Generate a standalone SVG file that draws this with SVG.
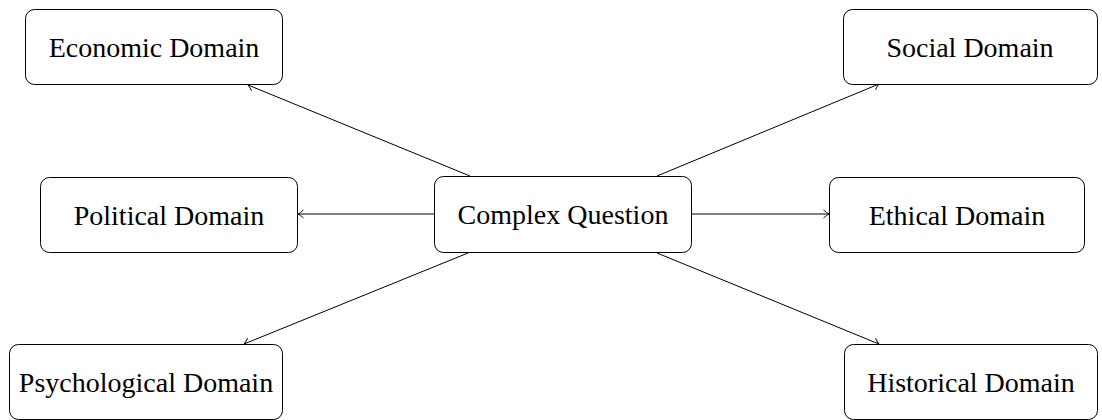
<svg xmlns="http://www.w3.org/2000/svg" width="1102" height="420" viewBox="0 0 1102 420">
  <style>
    .box { fill: #ffffff; stroke: #000000; stroke-width: 1; }
    .lbl { font-family: "Liberation Serif", "DejaVu Serif", serif; font-size: 28px; fill: #000000; text-anchor: middle; dominant-baseline: central; }
    .edge { stroke: #000000; stroke-width: 1; fill: none; marker-end: url(#arrow); }
  </style>
  <defs>
    <marker id="arrow" viewBox="-7 -5 8 10" refX="0" refY="0" markerWidth="8" markerHeight="10" markerUnits="userSpaceOnUse" orient="auto">
      <path d="M -5.5 -4 Q -2.2 -1.1 0 0 Q -2.2 1.1 -5.5 4" fill="none" stroke="#000000" stroke-width="0.9"/>
    </marker>
  </defs>
  <rect width="1102" height="420" fill="#ffffff"/>

  <g id="connectors">
    <line class="edge" x1="470" y1="176" x2="248" y2="85"/>
    <line class="edge" x1="434" y1="214" x2="298" y2="214"/>
    <line class="edge" x1="468" y1="253" x2="244" y2="344"/>
    <line class="edge" x1="657" y1="176" x2="879" y2="84"/>
    <line class="edge" x1="692" y1="214" x2="829" y2="214"/>
    <line class="edge" x1="657" y1="253" x2="879" y2="344"/>
  </g>

  <g id="complex-question">
    <rect class="box" x="434.5" y="176.5" width="257" height="76" rx="9"/>
    <text class="lbl" x="563" y="214">Complex Question</text>
  </g>
  <g id="economic-domain">
    <rect class="box" x="25.5" y="9.5" width="257" height="75" rx="9"/>
    <text class="lbl" x="154" y="47">Economic Domain</text>
  </g>
  <g id="political-domain">
    <rect class="box" x="40.5" y="177.5" width="257" height="75" rx="9"/>
    <text class="lbl" x="169" y="215">Political Domain</text>
  </g>
  <g id="psychological-domain">
    <rect class="box" x="9.5" y="344.5" width="273" height="75" rx="9"/>
    <text class="lbl" x="146" y="382">Psychological Domain</text>
  </g>
  <g id="social-domain">
    <rect class="box" x="843.5" y="9.5" width="254" height="75" rx="9"/>
    <text class="lbl" x="970" y="47">Social Domain</text>
  </g>
  <g id="ethical-domain">
    <rect class="box" x="829.5" y="177.5" width="255" height="75" rx="9"/>
    <text class="lbl" x="957" y="215">Ethical Domain</text>
  </g>
  <g id="historical-domain">
    <rect class="box" x="844.5" y="344.5" width="253" height="75" rx="9"/>
    <text class="lbl" x="971" y="382">Historical Domain</text>
  </g>
</svg>
